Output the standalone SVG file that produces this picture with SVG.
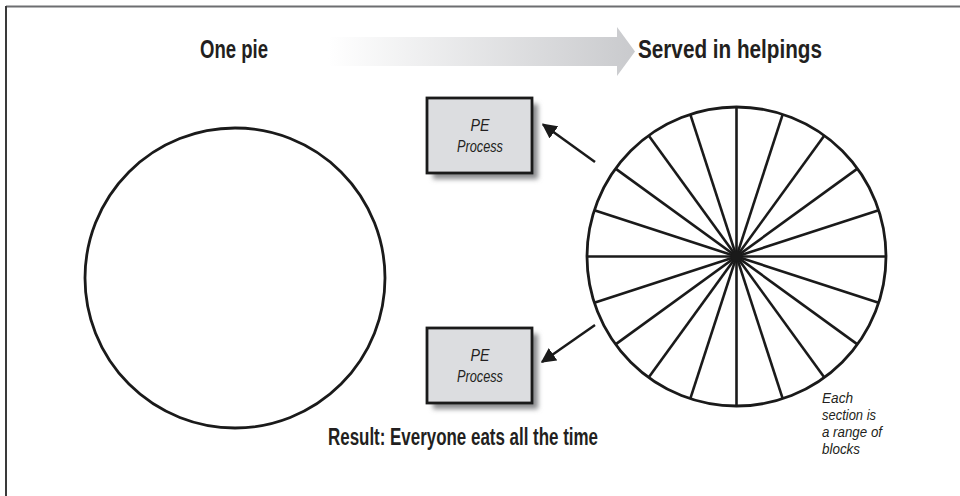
<svg xmlns="http://www.w3.org/2000/svg" width="960" height="496" viewBox="0 0 960 496">
<defs>
<linearGradient id="grad" x1="0" y1="0" x2="1" y2="0">
<stop offset="0" stop-color="#ffffff"/>
<stop offset="1" stop-color="#c9cacd"/>
</linearGradient>
<filter id="shadow" x="-20%" y="-20%" width="150%" height="150%">
<feGaussianBlur stdDeviation="2.5"/>
</filter>
<marker id="ah" viewBox="0 0 10 10" refX="9" refY="5" markerWidth="6" markerHeight="6" orient="auto" markerUnits="strokeWidth">
<path d="M0,0 L10,5 L0,10 Z" fill="#1a1a1a"/>
</marker>
</defs>
<style>
.title{font-family:"Liberation Sans Narrow","Liberation Sans",Arial,sans-serif;font-weight:bold;font-size:25px;fill:#231f20}
.lbl{font-family:"Liberation Sans Narrow","Liberation Sans",Arial,sans-serif;font-style:italic;font-size:17px;fill:#231f20}
.note{font-family:"Liberation Sans Narrow","Liberation Sans",Arial,sans-serif;font-style:italic;font-size:15px;fill:#231f20}
.circ{fill:none;stroke:#1a1a1a;stroke-width:2.8}
.spoke{stroke:#1a1a1a;stroke-width:2.6}
.box{fill:#dcdde0;stroke:#1a1a1a;stroke-width:2.8}
.shd{fill:#8a8b8e;filter:url(#shadow)}
.conn{stroke:#1a1a1a;stroke-width:2.5;fill:none;marker-end:url(#ah)}
</style>
<rect width="960" height="496" fill="#ffffff"/>
<g id="frame">
<line x1="6" y1="6.5" x2="960" y2="6.5" stroke="#6d6e71" stroke-width="2"/>
<line x1="6" y1="6" x2="6" y2="496" stroke="#3a3a3a" stroke-width="2"/>
</g>
<g id="header">
<polygon points="328,37 617,37 617,27 635,51.5 617,76 617,66 328,66" fill="url(#grad)"/>
<text class="title" x="200" y="58" textLength="68" lengthAdjust="spacingAndGlyphs">One pie</text>
<text class="title" x="638" y="58" textLength="184" lengthAdjust="spacingAndGlyphs">Served in helpings</text>
</g>
<g id="one-pie">
<circle class="circ" cx="235" cy="278" r="150"/>
</g>
<g id="helpings">
<circle class="circ" cx="736.5" cy="256.5" r="149.5"/>
<g transform="translate(736.5,256.5)">
<line class="spoke" x1="0" y1="-149.5" x2="0" y2="149.5"/>
<line class="spoke" x1="0" y1="-149.5" x2="0" y2="149.5" transform="rotate(18)"/>
<line class="spoke" x1="0" y1="-149.5" x2="0" y2="149.5" transform="rotate(36)"/>
<line class="spoke" x1="0" y1="-149.5" x2="0" y2="149.5" transform="rotate(54)"/>
<line class="spoke" x1="0" y1="-149.5" x2="0" y2="149.5" transform="rotate(72)"/>
<line class="spoke" x1="0" y1="-149.5" x2="0" y2="149.5" transform="rotate(90)"/>
<line class="spoke" x1="0" y1="-149.5" x2="0" y2="149.5" transform="rotate(108)"/>
<line class="spoke" x1="0" y1="-149.5" x2="0" y2="149.5" transform="rotate(126)"/>
<line class="spoke" x1="0" y1="-149.5" x2="0" y2="149.5" transform="rotate(144)"/>
<line class="spoke" x1="0" y1="-149.5" x2="0" y2="149.5" transform="rotate(162)"/>
<circle r="5.5" fill="#1a1a1a"/>
</g>
</g>
<g id="pe-process-1">
<rect class="shd" x="433" y="104" width="105" height="75"/>
<rect class="box" x="427" y="98" width="105" height="75"/>
<text class="lbl" x="480" y="131" text-anchor="middle" textLength="19" lengthAdjust="spacingAndGlyphs">PE</text>
<text class="lbl" x="480" y="152" text-anchor="middle" textLength="46" lengthAdjust="spacingAndGlyphs">Process</text>
</g>
<g id="pe-process-2">
<rect class="shd" x="433" y="334" width="105" height="75"/>
<rect class="box" x="427" y="328" width="105" height="75"/>
<text class="lbl" x="480" y="361" text-anchor="middle" textLength="19" lengthAdjust="spacingAndGlyphs">PE</text>
<text class="lbl" x="480" y="382" text-anchor="middle" textLength="46" lengthAdjust="spacingAndGlyphs">Process</text>
</g>
<g id="connectors">
<line class="conn" x1="595" y1="162" x2="543" y2="124.5"/>
<line class="conn" x1="595" y1="325" x2="542" y2="362"/>
</g>
<g id="note">
<text class="note" x="822" y="403" textLength="31" lengthAdjust="spacingAndGlyphs">Each</text>
<text class="note" x="822" y="420" textLength="54" lengthAdjust="spacingAndGlyphs">section is</text>
<text class="note" x="822" y="437" textLength="60" lengthAdjust="spacingAndGlyphs">a range of</text>
<text class="note" x="822" y="454" textLength="38" lengthAdjust="spacingAndGlyphs">blocks</text>
</g>
<g id="footer">
<text class="title" x="328" y="445" style="font-size:23px" textLength="270" lengthAdjust="spacingAndGlyphs">Result: Everyone eats all the time</text>
</g>
</svg>
